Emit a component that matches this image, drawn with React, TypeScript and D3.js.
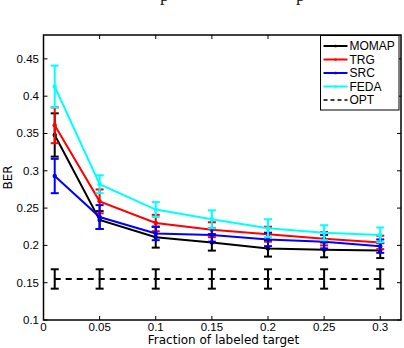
import React from "react";
import * as d3 from "d3";

// fraction of labeled target
const fractions = [0.01, 0.05, 0.1, 0.15, 0.2, 0.25, 0.3];

const momapMean = [0.348, 0.234, 0.211, 0.204, 0.196, 0.194, 0.193];
const momapErr = [0.029, 0.012, 0.014, 0.011, 0.011, 0.01, 0.01];
const trgMean = [0.361, 0.259, 0.23, 0.221, 0.215, 0.209, 0.204];
const trgErr = [0.024, 0.016, 0.011, 0.01, 0.01, 0.009, 0.009];
const srcMean = [0.293, 0.238, 0.216, 0.214, 0.208, 0.205, 0.199];
const srcErr = [0.023, 0.016, 0.009, 0.009, 0.009, 0.009, 0.009];
const fedaMean = [0.413, 0.282, 0.248, 0.235, 0.223, 0.217, 0.214];
const fedaErr = [0.028, 0.012, 0.01, 0.012, 0.012, 0.01, 0.01];
const optMean = [0.155, 0.155, 0.155, 0.155, 0.155, 0.155, 0.155];
const optErr = [0.013, 0.013, 0.013, 0.013, 0.013, 0.013, 0.013];

const seriesNames = ["MOMAP", "TRG", "SRC", "FEDA", "OPT"];
const seriesColors = ["#000000", "#ff0000", "#0000ff", "#00ffff", "#000000"];

const xTicks = [0, 0.05, 0.1, 0.15, 0.2, 0.25, 0.3];
const yTicks = [0.1, 0.15, 0.2, 0.25, 0.3, 0.35, 0.4, 0.45];

const W = 404;
const H = 348;
const left = 43.5;
const right = 401;
const top = 35;
const bottom = 320;

const font = "'Liberation Sans', Arial, Helvetica, sans-serif";
const labelFont = "'DejaVu Sans', sans-serif";

export default function App() {
  const x = d3.scaleLinear().domain([0, 0.3185]).range([left, right]);
  const y = d3.scaleLinear().domain([0.1, 0.482]).range([bottom, top]);

  const series = [
    { mean: momapMean, err: momapErr },
    { mean: trgMean, err: trgErr },
    { mean: srcMean, err: srcErr },
    { mean: fedaMean, err: fedaErr },
    { mean: optMean, err: optErr },
  ];

  const line = d3
    .line<number>()
    .x((_, i) => x(fractions[i]))
    .y((d) => y(d));

  const fmt = (v: number) => d3.format("~g")(+v.toFixed(2));

  return (
    <>
      <style>{"body{margin:0}"}</style>
      <svg width={W} height={H} style={{ display: "block", background: "#fff" }}>
        {/* caption cut off above the figure */}
        <text x={160} y={0.5} fontFamily="'Liberation Serif', serif" fontSize={18} fill="#222">p</text>
        <text x={296} y={0.5} fontFamily="'Liberation Serif', serif" fontSize={18} fill="#222">p</text>

        {/* series */}
        {series.map((s, si) => {
          const color = seriesColors[si];
          const isOpt = seriesNames[si] === "OPT";
          return (
            <g key={si}>
              <path
                d={line(s.mean) || ""}
                fill="none"
                stroke={color}
                strokeWidth={2}
                strokeDasharray={isOpt ? "6,5" : undefined}
              />
              {s.mean.map((m, i) => {
                const cx = x(fractions[i]);
                const y1 = y(m + s.err[i]);
                const y2 = y(m - s.err[i]);
                return (
                  <g key={i} stroke={color} strokeWidth={2}>
                    <line x1={cx} x2={cx} y1={y1} y2={y2} />
                    <line x1={cx - 4} x2={cx + 4} y1={y1} y2={y1} />
                    <line x1={cx - 4} x2={cx + 4} y1={y2} y2={y2} />
                    {!isOpt && <circle cx={cx} cy={y(m)} r={2.2} fill={color} stroke="none" />}
                  </g>
                );
              })}
            </g>
          );
        })}

        {/* axes box */}
        <rect x={left} y={top} width={right - left} height={bottom - top} fill="none" stroke="#000" strokeWidth={1.5} />
        {xTicks.map((t) => (
          <g key={"x" + t}>
            <line x1={x(t)} x2={x(t)} y1={bottom} y2={bottom - 4} stroke="#000" />
            <line x1={x(t)} x2={x(t)} y1={top} y2={top + 4} stroke="#000" />
            <text x={x(t)} y={331} textAnchor="middle" fontFamily={font} fontSize={11.5} fill="#000">
              {fmt(t)}
            </text>
          </g>
        ))}
        {yTicks.map((t) => (
          <g key={"y" + t}>
            <line x1={left} x2={left + 4} y1={y(t)} y2={y(t)} stroke="#000" />
            <line x1={right} x2={right - 4} y1={y(t)} y2={y(t)} stroke="#000" />
            <text x={39} y={y(t) + 4} textAnchor="end" fontFamily={font} fontSize={11.5} fill="#000">
              {fmt(t)}
            </text>
          </g>
        ))}

        <text x={223.5} y={344} textAnchor="middle" fontFamily={labelFont} fontSize={12} fill="#000">
          Fraction of labeled target
        </text>
        <text
          transform={`translate(11.5,${(top + bottom) / 2}) rotate(-90)`}
          textAnchor="middle"
          fontFamily={labelFont}
          fontSize={12}
          fill="#000"
        >
          BER
        </text>

        {/* legend */}
        <g>
          <rect x={320.5} y={35.5} width={78.5} height={74.5} fill="#fff" stroke="#000" strokeWidth={1} />
          {seriesNames.map((name, i) => {
            const ly = 46 + i * 13.5;
            const isOpt = name === "OPT";
            return (
              <g key={name}>
                <line
                  x1={323.5}
                  x2={347.5}
                  y1={ly}
                  y2={ly}
                  stroke={seriesColors[i]}
                  strokeWidth={isOpt ? 1.5 : 2}
                  strokeDasharray={isOpt ? "4,3" : undefined}
                />
                {!isOpt && <circle cx={335.5} cy={ly} r={1.6} fill={seriesColors[i]} opacity={0.6} />}
                <text x={349.5} y={ly + 4} fontFamily={font} fontSize={12} fill="#000">
                  {name}
                </text>
              </g>
            );
          })}
        </g>
      </svg>
    </>
  );
}
